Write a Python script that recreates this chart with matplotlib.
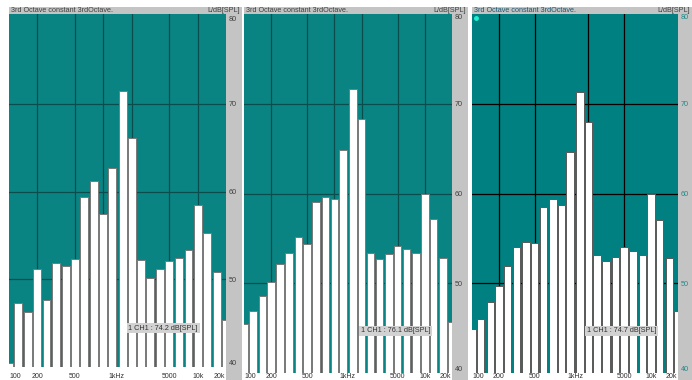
# -*- coding: utf-8 -*-
import numpy as np
import matplotlib.pyplot as plt
from matplotlib.patches import Rectangle

plt.rcParams['font.family'] = ['Liberation Sans', 'DejaVu Sans']

# Bandes de tiers d'octave (Hz)
bands = [100, 125, 160, 200, 250, 315, 400, 500, 630, 800, 1000, 1250,
         1600, 2000, 2500, 3150, 4000, 5000, 6300, 8000, 10000, 12500, 16000, 20000]

# Niveaux par bande, dB[SPL]
levels_1 = [40.5, 47.3, 46.3, 51.2, 47.6, 51.9, 51.5, 52.3, 59.4, 61.2, 57.5, 62.7,
            71.5, 66.1, 52.2, 50.1, 51.2, 52.1, 52.4, 53.3, 58.5, 55.3, 50.8, 45.4]
levels_2 = [45.5, 46.9, 48.6, 50.1, 52.2, 53.4, 55.2, 54.4, 59.0, 59.6, 59.4, 64.8,
            71.6, 68.3, 53.4, 52.7, 53.3, 54.2, 53.8, 53.4, 60.0, 57.2, 52.8, 45.7]
levels_3 = [44.9, 46.0, 47.9, 49.7, 51.9, 54.0, 54.6, 54.5, 58.5, 59.4, 58.7, 64.6,
            71.3, 68.0, 53.2, 52.5, 52.9, 54.0, 53.6, 53.1, 59.9, 57.0, 52.8, 46.9]

# Niveau global de chaque mesure
totals = [74.2, 76.1, 74.7]

title_left = "3rd Octave constant 3rdOctave."
title_right = "L/dB[SPL]"
x_ticks = [100, 200, 500, 1000, 5000, 10000, 20000]
x_labels = ["100", "200", "500", "1kHz", "5000", "10k", "20k"]
y_ticks = [40, 50, 60, 70, 80]

W, H = 692, 380
fig = plt.figure(figsize=(W / 100, H / 100), dpi=100)
fig.patch.set_facecolor('white')


def px_box(x0, y0, x1, y1):
	"""Boite en pixels (origine en haut a gauche) -> coordonnees figure."""
	return [x0 / W, 1 - y1 / H, (x1 - x0) / W, (y1 - y0) / H]


# Mise en page de chaque fenetre : zone de trace, bord droit du cadre gris, style
panels = [
	dict(levels=levels_1, total=totals[0], plot=(9, 14, 226, 367), frame=(9, 242), ytop=80.26,
	     bg='#0a8383', grid='#0b4d4d', gx=[200, 500, 1000, 2000, 5000, 10000],
	     tick_col='#404040', title_col='#404040', edge='#7a7a7a', lab=(0.71, 0.11)),
	dict(levels=levels_2, total=totals[1], plot=(244, 14, 452, 373), frame=(244, 468), ytop=80.0,
	     bg='#0a8383', grid='#0b4d4d', gx=[200, 500, 1000, 2000, 5000, 10000],
	     tick_col='#404040', title_col='#404040', edge='#7a7a7a', lab=(0.73, 0.117)),
	dict(levels=levels_3, total=totals[2], plot=(472, 14, 678, 373), frame=(472, 692), ytop=80.0,
	     bg='#008080', grid='#000000', gx=[200, 500, 2000, 5000],
	     tick_col='#1c8a8a', title_col='#1a5670', edge='#5a5a5a', lab=(0.728, 0.117)),
]

half = 0.042  # demi-largeur d'une barre en decades
label_base = 379.5  # bas des libelles de frequence, en pixels depuis le haut

for p in panels:
	x0, y0, x1, y1 = p['plot']
	fx0, fx1 = p['frame']

	# Cadre gris : barre de titre + colonne de droite pour l'echelle
	fig.add_artist(Rectangle((fx0 / W, 1 - 14 / H), (fx1 - fx0) / W, 7 / H,
	                         transform=fig.transFigure, fc='#c4c4c4', ec='none', zorder=0))
	fig.add_artist(Rectangle((x1 / W, 0), (fx1 - x1) / W, 1 - 14 / H,
	                         transform=fig.transFigure, fc='#c4c4c4', ec='none', zorder=0))
	fig.text((fx0 + 2) / W, 1 - 10.5 / H, title_left, fontsize=5.2, color=p['title_col'],
	         ha='left', va='center')
	fig.text((fx1 - 2) / W, 1 - 10.5 / H, title_right, fontsize=5.2, color='#404040',
	         ha='right', va='center')

	ax = fig.add_axes(px_box(x0, y0, x1, y1))
	ax.set_facecolor(p['bg'])
	ax.set_xscale('log')
	ax.set_xlim(100, 20000)
	ax.set_ylim(40, p['ytop'])

	# Grille
	for g in p['gx']:
		ax.axvline(g, color=p['grid'], lw=0.9, zorder=1)
	for g in [50, 60, 70]:
		ax.axhline(g, color=p['grid'], lw=0.9, zorder=1)

	# Barres de tiers d'octave
	f = np.array(bands, dtype=float)
	lo = f * 10 ** (-half)
	hi = f * 10 ** half
	lv = np.array(p['levels'])
	ax.bar(lo, lv - 40, width=hi - lo, bottom=40, align='edge', color='white',
	       edgecolor=p['edge'], linewidth=0.7, zorder=3)

	for s in ax.spines.values():
		s.set_visible(False)

	# Echelle en dB a droite
	ax.set_xticks([])
	ax.set_xticks([], minor=True)
	ax.yaxis.tick_right()
	ax.set_yticks(y_ticks)
	ax.set_yticklabels([str(v) for v in y_ticks])
	ax.tick_params(axis='y', length=0, pad=2, labelsize=5.2, labelcolor=p['tick_col'])
	labs = ax.get_yticklabels()
	labs[0].set_va('bottom')
	labs[-1].set_va('top')

	# Frequences sous le graphe (decalage en points depuis le bas de la zone de trace)
	dy = -(label_base - y1) * 72 / 100
	for fq, txt in zip(x_ticks, x_labels):
		ha, dx = 'center', 0
		if fq == 100:
			ha, dx = 'left', 0.5
		elif fq == 20000:
			ha, dx = 'right', -0.5
		elif fq == 1000:
			ha, dx = 'left', 4
		ax.annotate(txt, xy=(fq, 0), xycoords=ax.get_xaxis_transform(),
		            xytext=(dx, dy), textcoords='offset points', ha=ha, va='bottom',
		            fontsize=5.0, color='#303030', annotation_clip=False, zorder=6)

	# Etiquette du niveau global
	ax.text(p['lab'][0], p['lab'][1], "1 CH1 : %.1f dB[SPL]" % p['total'],
	        transform=ax.transAxes, ha='center', va='center', fontsize=5.2, color='#303030',
	        bbox=dict(boxstyle='square,pad=0.25', fc='#d2d2d2', ec='none'), zorder=5)

	if p is panels[2]:
		ax.plot(0.019, 0.989, 'o', ms=2.5, color='#20f0d0', transform=ax.transAxes,
		        clip_on=False, zorder=6)

fig.savefig('out.png', dpi=100, facecolor=fig.get_facecolor())
